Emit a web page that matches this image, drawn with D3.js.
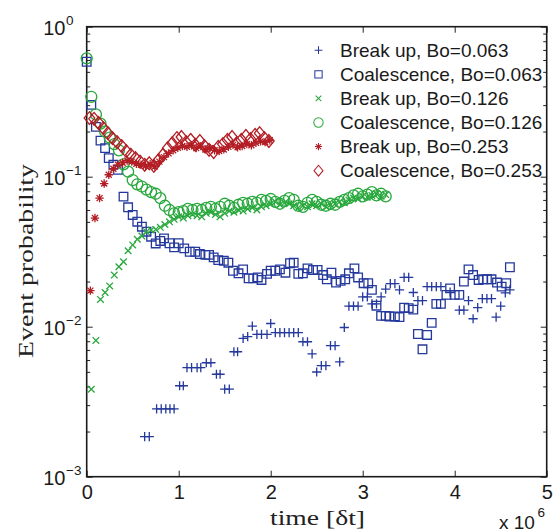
<!DOCTYPE html>
<html><head><meta charset="utf-8">
<script src="https://cdn.jsdelivr.net/npm/d3@7"></script>
<style>body{margin:0;background:#fff}svg{display:block}</style>
</head><body>
<svg id="c" width="557" height="532"></svg>
<script>
// ---------- data (time in units of 10^6 dt) ----------
const xTicks = [0, 1, 2, 3, 4, 5];
const yMajor = [1e-3, 1e-2, 1e-1, 1];
const yExpLabels = ["\u22123", "\u22122", "\u22121", "0"];

const tBreak063 = [0.63,0.68,0.76,0.81,0.86,0.905,0.95,1.01,1.05,1.09,1.14,1.20,1.24,1.30,1.35,1.41,1.45,1.50,1.55,1.60,1.64,1.70,1.75,1.80,1.85,1.90,1.96,2.00,2.05,2.10,2.15,2.20,2.25,2.30,2.35,2.40,2.45,2.50,2.55,2.60,2.65,2.70,2.75,2.80,2.85,2.90,2.95,3.00,3.05,3.10,3.15,3.20,3.25,3.30,3.35,3.40,3.45,3.50,3.55,3.60,3.65,3.70,3.75,3.80,3.85,3.95,4.05,4.10,4.15,4.20,4.25,4.30,4.35,4.40,4.45,4.50,4.55,4.60];
const pBreak063 = [0.00185,0.00185,0.00283,0.00283,0.00283,0.00283,0.00283,0.00404,0.00404,0.00533,0.00533,0.00533,0.00533,0.00575,0.00575,0.00482,0.00482,0.00383,0.00383,0.00681,0.00681,0.00837,0.00858,0.0101,0.0089,0.0089,0.0089,0.0105,0.00912,0.00912,0.00912,0.00912,0.00912,0.00912,0.00794,0.00794,0.00658,0.00499,0.00551,0.00551,0.00747,0.00747,0.00582,0.00988,0.0137,0.0137,0.0137,0.0158,0.0158,0.0142,0.0142,0.0158,0.0178,0.0194,0.0194,0.0176,0.0213,0.0213,0.0169,0.0149,0.0149,0.0185,0.0185,0.0185,0.0185,0.0170,0.0129,0.0129,0.0149,0.0113,0.0134,0.0154,0.0154,0.0154,0.0116,0.0137,0.0168,0.0176];

const tCoal063 = [0,0.05,0.10,0.15,0.20,0.24,0.29,0.34,0.40,0.45,0.50,0.55,0.60,0.65,0.70,0.75,0.80,0.84,0.90,0.95,1.00,1.06,1.12,1.18,1.23,1.29,1.33,1.38,1.43,1.49,1.54,1.59,1.65,1.70,1.76,1.81,1.86,1.90,1.96,2.00,2.05,2.10,2.16,2.21,2.25,2.30,2.35,2.40,2.46,2.51,2.57,2.61,2.66,2.71,2.76,2.81,2.85,2.91,2.95,3.01,3.06,3.10,3.15,3.20,3.25,3.29,3.35,3.40,3.45,3.50,3.55,3.60,3.65,3.70,3.75,3.80,3.85,3.91,3.95,4.00,4.05,4.10,4.15,4.20,4.26,4.31,4.35,4.40,4.46,4.51,4.56,4.60];
const pCoal063 = [0.584,0.301,0.215,0.174,0.155,0.133,0.120,0.111,0.0736,0.0625,0.0556,0.0501,0.0464,0.0430,0.0398,0.0359,0.0373,0.0388,0.0360,0.0338,0.0360,0.0333,0.0316,0.0316,0.0305,0.0301,0.0301,0.0290,0.0278,0.0275,0.0267,0.0236,0.0227,0.0241,0.0210,0.0210,0.0213,0.0205,0.0225,0.0236,0.0236,0.0241,0.0229,0.0265,0.0267,0.0225,0.0227,0.0245,0.0239,0.0239,0.0221,0.0207,0.0229,0.0197,0.0202,0.0207,0.0227,0.0245,0.0213,0.0195,0.0195,0.0176,0.0138,0.0118,0.0118,0.0117,0.0117,0.0116,0.0134,0.0133,0.0130,0.00894,0.00707,0.00881,0.0106,0.0142,0.0142,0.0163,0.0180,0.0163,0.0163,0.0200,0.0241,0.0221,0.0205,0.0207,0.0207,0.0207,0.0197,0.0185,0.0195,0.0249];

const tBreak126 = [0.05,0.10,0.15,0.20,0.25,0.30,0.35,0.40,0.45,0.50,0.55,0.60,0.65,0.70,0.75,0.80,0.85,0.90,0.95,1.00,1.05,1.10,1.15,1.20,1.25,1.30,1.35,1.40,1.45,1.50,1.55,1.60,1.65,1.70,1.75,1.80,1.85,1.90,1.95,2.00,2.05,2.10,2.15,2.20,2.25,2.30,2.35,2.40,2.45,2.50,2.55,2.60,2.65,2.70,2.75,2.80,2.85,2.90,2.95,3.00,3.05,3.10,3.15,3.20,3.25];
const pBreak126 = [0.00383,0.0081,0.0152,0.0169,0.0187,0.0221,0.0251,0.0271,0.0321,0.0351,0.0383,0.0402,0.043,0.0441,0.0445,0.046,0.048,0.050,0.052,0.054,0.053,0.055,0.056,0.055,0.054,0.057,0.058,0.056,0.054,0.057,0.059,0.058,0.060,0.059,0.061,0.062,0.060,0.063,0.064,0.066,0.068,0.065,0.067,0.066,0.064,0.062,0.064,0.063,0.066,0.064,0.066,0.063,0.065,0.066,0.068,0.067,0.070,0.072,0.071,0.074,0.073,0.075,0.077,0.074,0.076];

const tCoal126 = [0,0.05,0.10,0.15,0.20,0.25,0.30,0.35,0.40,0.45,0.50,0.55,0.60,0.65,0.70,0.75,0.80,0.85,0.90,0.95,1.00,1.05,1.10,1.15,1.20,1.25,1.30,1.35,1.40,1.45,1.50,1.55,1.60,1.65,1.70,1.75,1.80,1.85,1.90,1.95,2.00,2.05,2.10,2.15,2.20,2.25,2.30,2.35,2.40,2.45,2.50,2.55,2.60,2.65,2.70,2.75,2.80,2.85,2.90,2.95,3.00,3.05,3.10,3.15,3.20,3.25];
const pCoal126 = [0.615,0.341,0.26,0.226,0.20,0.182,0.165,0.150,0.121,0.108,0.095,0.089,0.086,0.082,0.079,0.077,0.072,0.064,0.060,0.057,0.058,0.059,0.061,0.060,0.061,0.060,0.062,0.063,0.061,0.063,0.066,0.064,0.062,0.065,0.067,0.066,0.068,0.067,0.070,0.069,0.071,0.068,0.066,0.069,0.072,0.070,0.064,0.063,0.067,0.070,0.068,0.065,0.064,0.066,0.065,0.068,0.070,0.072,0.075,0.077,0.074,0.076,0.079,0.075,0.077,0.074];

const tBreak253 = [0.04,0.09,0.14,0.19,0.24,0.29,0.34,0.39,0.44,0.49,0.54,0.59,0.64,0.69,0.74,0.79,0.84,0.89,0.94,0.99,1.04,1.09,1.14,1.19,1.24,1.29,1.34,1.39,1.44,1.49,1.54,1.59,1.64,1.69,1.74,1.79,1.84,1.89,1.94,1.99];
const pBreak253 = [0.0174,0.053,0.072,0.090,0.103,0.113,0.120,0.124,0.128,0.126,0.122,0.120,0.118,0.121,0.117,0.126,0.135,0.143,0.150,0.156,0.160,0.158,0.162,0.155,0.160,0.152,0.155,0.150,0.148,0.152,0.158,0.163,0.157,0.160,0.165,0.162,0.168,0.172,0.170,0.175];

const tCoal253 = [0.03,0.08,0.13,0.18,0.23,0.28,0.33,0.38,0.43,0.48,0.53,0.58,0.63,0.68,0.73,0.78,0.83,0.88,0.93,0.98,1.03,1.08,1.13,1.18,1.23,1.28,1.33,1.38,1.43,1.48,1.53,1.58,1.63,1.68,1.73,1.78,1.83,1.88,1.93,1.98];
const pCoal253 = [0.246,0.243,0.228,0.211,0.195,0.181,0.170,0.160,0.148,0.140,0.133,0.126,0.120,0.123,0.118,0.129,0.140,0.155,0.167,0.181,0.184,0.170,0.176,0.163,0.173,0.160,0.151,0.146,0.158,0.165,0.176,0.184,0.167,0.176,0.187,0.178,0.190,0.195,0.181,0.173];

const seriesLabels = ["Break up, Bo=0.063","Coalescence, Bo=0.063","Break up, Bo=0.126","Coalescence, Bo=0.126","Break up, Bo=0.253","Coalescence, Bo=0.253"];
const seriesMarkers = ["plus","square","cross","circle","star","diamond"];
const seriesColors = ["#25389c","#25389c","#28a83c","#28a83c","#b31d24","#b31d24"];
const seriesT = [tBreak063,tCoal063,tBreak126,tCoal126,tBreak253,tCoal253];
const seriesP = [pBreak063,pCoal063,pBreak126,pCoal126,pBreak253,pCoal253];

// ---------- layout ----------
const L = 86.7, R = 546.7, T = 26.7, B = 476.7;
const svg = d3.select("#c");
const x = d3.scaleLinear().domain([0, 5]).range([L, R]);
const y = d3.scaleLog().domain([1e-3, 1]).range([B, T]);

function markerPath(type) {
  switch (type) {
    case "plus": return "M-4.6,0H4.6M0,-4.6V4.6";
    case "square": return "M-4.3,-4.3H4.3V4.3H-4.3Z";
    case "cross": return "M-3.3,-3.3L3.3,3.3M-3.3,3.3L3.3,-3.3";
    case "circle": return "M5.5,0A5.5,5.5 0 1 1 -5.5,0A5.5,5.5 0 1 1 5.5,0Z";
    case "star": return "M-4.2,0H4.2M0,-4.2V4.2M-3,-3L3,3M-3,3L3,-3";
    case "diamond": return "M0,-6.4L5.3,0L0,6.4L-5.3,0Z";
  }
}

// ---------- axes ----------
const font = "'Liberation Sans', Arial, Helvetica, sans-serif";
const serif = "'Liberation Serif', 'Times New Roman', serif";
const yMinor = [];
[1e-3, 1e-2, 1e-1].forEach(d => { for (let k = 2; k <= 9; k++) yMinor.push(d * k); });

function styleAxis(g) {
  g.select(".domain").remove();
  g.selectAll(".tick line").attr("stroke", "#222").attr("stroke-width", 1);
}
svg.append("g").attr("transform", `translate(0,${B})`)
  .call(d3.axisBottom(x).tickValues(xTicks).tickSizeInner(-6).tickSizeOuter(0).tickPadding(8.5).tickFormat(d3.format("d")))
  .call(styleAxis)
  .call(g => g.selectAll("text").attr("font-family", font).attr("font-size", 20).attr("fill", "#1a1a1a"));
svg.append("g").attr("transform", `translate(0,${T})`)
  .call(d3.axisTop(x).tickValues(xTicks).tickSizeInner(-6).tickSizeOuter(0).tickFormat(""))
  .call(styleAxis);
[[d3.axisLeft, L], [d3.axisRight, R]].forEach(([ax, pos]) => {
  svg.append("g").attr("transform", `translate(${pos},0)`)
    .call(ax(y).tickValues(yMajor).tickSizeInner(-6).tickSizeOuter(0).tickFormat(""))
    .call(styleAxis);
  svg.append("g").attr("transform", `translate(${pos},0)`)
    .call(ax(y).tickValues(yMinor).tickSizeInner(-3.5).tickSizeOuter(0).tickFormat(""))
    .call(styleAxis);
});

// y tick labels 10^n
const yl = svg.append("g");
yMajor.forEach((v, i) => {
  yl.append("text").attr("x", 65.5).attr("y", y(v) + 8.5).attr("text-anchor", "end")
    .attr("font-family", font).attr("font-size", 20).attr("fill", "#1a1a1a").text("10");
  yl.append("text").attr("x", 66).attr("y", y(v) - 1.5)
    .attr("font-family", font).attr("font-size", 13.5).attr("fill", "#1a1a1a").text(yExpLabels[i]);
});

// frame
svg.append("rect").attr("x", L).attr("y", T).attr("width", R - L).attr("height", B - T)
  .attr("fill", "none").attr("stroke", "#1a1a1a").attr("stroke-width", 1.6);

// axis titles
svg.append("text").attr("x", 317.5).attr("y", 525).attr("text-anchor", "middle")
  .attr("font-family", serif).attr("font-size", 21).attr("fill", "#222")
  .attr("textLength", 95).attr("lengthAdjust", "spacingAndGlyphs")
  .text("time [\u03B4t]");
svg.append("text").attr("transform", "translate(33,261) rotate(-90)").attr("text-anchor", "middle")
  .attr("font-family", serif).attr("font-size", 22).attr("fill", "#222")
  .attr("textLength", 194).attr("lengthAdjust", "spacingAndGlyphs")
  .text("Event probability");
svg.append("text").attr("x", 499).attr("y", 529).attr("font-family", font).attr("font-size", 19).attr("fill", "#1a1a1a").text("x 10");
svg.append("text").attr("x", 537.5).attr("y", 516.5).attr("font-family", font).attr("font-size", 13.5).attr("fill", "#1a1a1a").text("6");

// ---------- data marks ----------
const plot = svg.append("g");
seriesLabels.forEach((lab, s) => {
  const pts = d3.zip(seriesT[s], seriesP[s]);
  plot.append("g").selectAll("path").data(pts).join("path")
    .attr("d", markerPath(seriesMarkers[s]))
    .attr("transform", d => `translate(${x(d[0])},${y(d[1])})`)
    .attr("fill", "none").attr("stroke", seriesColors[s]).attr("stroke-width", 1.3);
});

// ---------- legend ----------
const lg = svg.append("g");
seriesLabels.forEach((lab, s) => {
  const by = 56.7 + s * 24.1;
  lg.append("path").attr("d", markerPath(seriesMarkers[s]))
    .attr("transform", `translate(318.5,${by - 6.5}) scale(0.85)`)
    .attr("fill", "none").attr("stroke", seriesColors[s]).attr("stroke-width", 1.2);
  lg.append("text").attr("x", 340).attr("y", by).attr("font-family", font).attr("font-size", 19)
    .attr("fill", "#1a1a1a").text(lab);
});
</script>
</body></html>
